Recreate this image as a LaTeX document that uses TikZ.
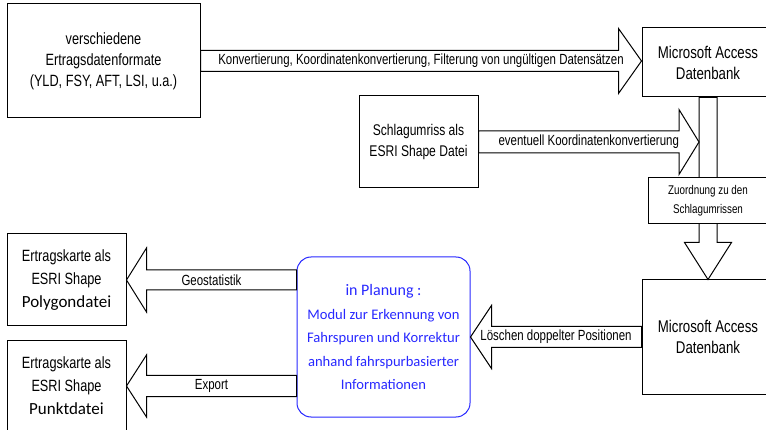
\documentclass[tikz,border=0pt]{standalone}
\usepackage{fontspec}
\setmainfont{Liberation Sans}[FakeStretch=0.78]
\newfontfamily\calfont{Carlito}
\usetikzlibrary{calc}

\definecolor{planblue}{RGB}{40,40,255}

\tikzset{
  box/.style={draw,line width=1pt,fill=white,align=center,inner sep=0pt,
    font=\fontsize{16.3}{21}\selectfont},
  plan/.style={draw=planblue,line width=1pt,rounded corners=14pt,align=center,
    inner sep=0pt,text=planblue,font=\calfont\fontsize{14.6}{23.5}\selectfont},
  arrowline/.style={draw,line width=1pt,fill=white},
  arrowlabel/.style={inner sep=0pt,font=\fontsize{14.7}{14.7}\selectfont}
}

% block arrow: start, end, half shaft, half head, head length, label
\newcommand{\blockarrow}[6]{%
  \coordinate (ba-s) at (#1);
  \coordinate (ba-t) at (#2);
  \coordinate (ba-h) at ($(ba-t)!#5pt!(ba-s)$);
  \draw[arrowline] ($(ba-s)!#3pt!90:(ba-t)$) -- ($(ba-h)!#3pt!-90:(ba-s)$)
    -- ($(ba-h)!#4pt!-90:(ba-s)$) -- (ba-t) -- ($(ba-h)!#4pt!90:(ba-s)$)
    -- ($(ba-h)!#3pt!90:(ba-s)$) -- ($(ba-s)!#3pt!-90:(ba-t)$) -- cycle;
  \node[arrowlabel] at ($(ba-s)!0.5!(ba-t)$) {#6};
}

\begin{document}
\begin{tikzpicture}[x=1pt,y=-1pt]
\useasboundingbox (0,0) rectangle (766,430);
\clip (0,0) rectangle (766,430);

% boxes
\node[box,minimum width=193pt,minimum height=114pt] (formate) at (103.5,61)
  {verschiedene\\Ertragsdatenformate\\(YLD, FSY, AFT, LSI, u.a.)};
\node[box,minimum width=132pt,minimum height=69pt,font=\fontsize{17}{21}\selectfont]
  (access1) at (708,62.5) {Microsoft Access\\Datenbank};
\node[box,minimum width=119pt,minimum height=92pt,font=\fontsize{15.5}{21}\selectfont]
  (umriss) at (418.5,142) {Schlagumriss als\\ESRI Shape Datei};
\node[box,minimum width=132pt,minimum height=114pt,font=\fontsize{17}{21}\selectfont]
  (access2) at (708,337) {Microsoft Access\\Datenbank};
\node[plan,minimum width=173pt,minimum height=160pt] (modul) at (383.5,337)
  {{\fontsize{16}{23.5}\selectfont in Planung :}\\Modul zur Erkennung von\\
   Fahrspuren und Korrektur\\anhand fahrspurbasierter\\Informationen};
\node[box,minimum width=119pt,minimum height=92pt,font=\fontsize{16.3}{23}\selectfont]
  (polygon) at (66.5,280)
  {Ertragskarte als\\ESRI Shape\\{\calfont\fontsize{17}{23}\selectfont Polygondatei}};
\node[box,minimum width=119pt,minimum height=90pt,font=\fontsize{16.3}{23}\selectfont]
  (punkt) at (66.5,386)
  {Ertragskarte als\\ESRI Shape\\{\calfont\fontsize{17}{23}\selectfont Punktdatei}};

% arrows
\coordinate (umriss-in) at ($(umriss.east -| access1.south)+(-9,0)$);

\blockarrow{formate.east}{formate.east -| access1.west}{10.5}{32.5}{23}
  {Konvertierung, Koordinatenkonvertierung, Filterung von ungültigen Datensätzen}
\blockarrow{access1.south}{access2.north}{9}{23.5}{37}{}
\blockarrow{umriss.east}{umriss-in}{11}{32.5}{20}{eventuell Koordinatenkonvertierung}
\blockarrow{access2.west}{access2.west -| modul.east}{10.5}{31.5}{21}
  {Löschen doppelter Positionen}
\blockarrow{modul.west |- polygon.east}{polygon.east}{10}{32}{20}{Geostatistik}
\blockarrow{modul.west |- punkt.east}{punkt.east}{10.5}{31}{20}{Export}

\node[box,minimum width=120pt,minimum height=46pt,font=\fontsize{12.6}{19}\selectfont]
  (zuordnung) at (708,201) {Zuordnung zu den\\Schlagumrissen};

\end{tikzpicture}
\end{document}
